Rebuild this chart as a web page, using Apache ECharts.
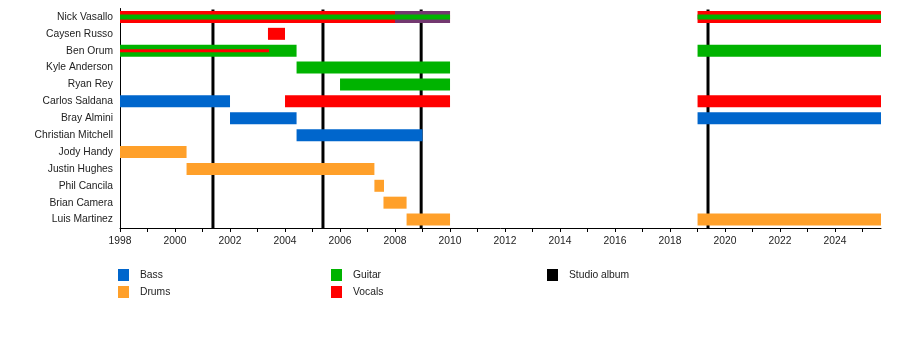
<!DOCTYPE html>
<html>
<head>
<meta charset="utf-8">
<script src="https://cdn.jsdelivr.net/npm/echarts@6/dist/echarts.min.js"></script>
<style>html,body{margin:0;padding:0;background:#fff;}#c{width:900px;height:346px;}</style>
</head>
<body>
<div id="c"></div>
<script>
const members = ['Nick Vasallo','Caysen Russo','Ben Orum','Kyle Anderson','Ryan Rey','Carlos Saldana','Bray Almini','Christian Mitchell','Jody Handy','Justin Hughes','Phil Cancila','Brian Camera','Luis Martinez'];
const yearTicks = [1998,2000,2002,2004,2006,2008,2010,2012,2014,2016,2018,2020,2022,2024];

// main bars [member, start, end]
const bass = [['Carlos Saldana',1998,2002],['Bray Almini',2002,2004.42],['Christian Mitchell',2004.42,2009],['Bray Almini',2019,2025.67]];
const drums = [['Jody Handy',1998,2000.42],['Justin Hughes',2000.42,2007.25],['Phil Cancila',2007.25,2007.6],['Brian Camera',2007.58,2008.42],['Luis Martinez',2008.42,2010],['Luis Martinez',2019,2025.67]];
const guitar = [['Ben Orum',1998,2004.42],['Kyle Anderson',2004.42,2010],['Ryan Rey',2006,2010],['Ben Orum',2019,2025.67]];
const vocals = [['Nick Vasallo',1998,2010],['Caysen Russo',2003.38,2004],['Carlos Saldana',2004,2010],['Nick Vasallo',2019,2025.67],['Carlos Saldana',2019,2025.67]];
// secondary role stripes
const bassStripe = [['Nick Vasallo',2008,2010]];
const guitarStripe = [['Nick Vasallo',1998,2010],['Nick Vasallo',2019,2025.67]];
const vocalsStripe = [['Ben Orum',1998,2003.42]];
const studioAlbums = [2001.38, 2005.38, 2008.95, 2019.38];

const COLORS = {Bass:'#0066cc', Drums:'#ffa02a', Guitar:'#00b300', Vocals:'#ff0000', 'Studio album':'#000000'};
const FONT = '"Liberation Sans", Arial, Helvetica, sans-serif';

function toData(arr){ return arr.map(d => [members.indexOf(d[0]), d[1], d[2]]); }
function barRender(h, op){
  return function(params, api){
    const idx = api.value(0);
    const s = api.coord([api.value(1), idx]);
    const e = api.coord([api.value(2), idx]);
    return {type:'rect', shape:{x:s[0], y:s[1]-h/2, width:e[0]-s[0], height:h}, style:{fill: api.visual('color'), opacity: op}};
  };
}
function barSeries(name, arr, h, z, op){
  return {type:'custom', name:name, data:toData(arr), encode:{x:[1,2], y:0}, renderItem:barRender(h, op==null?1:op), itemStyle:{color:COLORS[name]}, z:z, silent:true};
}

const series = [
  {type:'custom', name:'Studio album', data: studioAlbums.map(v=>[v]), encode:{x:0},
   itemStyle:{color:'#000'}, z:1, silent:true,
   renderItem:function(params, api){
     const x = api.coord([api.value(0), 0])[0];
     const cs = params.coordSys;
     return {type:'line', shape:{x1:x, y1:cs.y+1, x2:x, y2:cs.y+cs.height}, style:{stroke:'#000', lineWidth:3}};
   }},
  barSeries('Bass', bass, 12, 2),
  barSeries('Drums', drums, 12, 2),
  barSeries('Guitar', guitar, 12, 2),
  barSeries('Vocals', vocals, 12, 2),
  barSeries('Bass', bassStripe, 12, 3, 0.55),
  barSeries('Guitar', guitarStripe, 5, 4),
  barSeries('Vocals', vocalsStripe, 3, 4)
];

const legendCommon = {orient:'vertical', icon:'rect', itemWidth:11, itemHeight:12, itemGap:5, padding:0,
  textStyle:{fontFamily:FONT, fontSize:10.3, color:'#222', padding:[0,0,0,6]}, selectedMode:false};

const chart = echarts.init(document.getElementById('c'), null, {renderer:'canvas'});
chart.setOption({
  animation:false,
  backgroundColor:'#fff',
  grid:{left:120, right:19, top:8.5, height:219.5, containLabel:false},
  xAxis:{type:'value', min:1998, max:2025.67, interval:1,
    axisLine:{show:true, lineStyle:{color:'#000', width:1}},
    axisTick:{show:true, length:4, lineStyle:{color:'#000'}},
    splitLine:{show:false},
    axisLabel:{margin:8, fontFamily:FONT, fontSize:10.3, color:'#222', showMaxLabel:false,
      formatter:function(v){ const r=Math.round(v); return (Math.abs(v-r)<1e-6 && yearTicks.indexOf(r)>=0) ? String(r) : ''; }}
  },
  yAxis:{type:'category', data:members, inverse:true,
    axisLine:{show:true, lineStyle:{color:'#000', width:1}},
    axisTick:{show:false}, splitLine:{show:false},
    axisLabel:{margin:7, fontFamily:FONT, fontSize:10.3, color:'#222'}
  },
  legend:[
    Object.assign({left:118, top:269, data:['Bass','Drums']}, legendCommon),
    Object.assign({left:331, top:269, data:['Guitar','Vocals']}, legendCommon),
    Object.assign({left:547, top:269, data:['Studio album']}, legendCommon)
  ],
  series:series
});
</script>
</body>
</html>
